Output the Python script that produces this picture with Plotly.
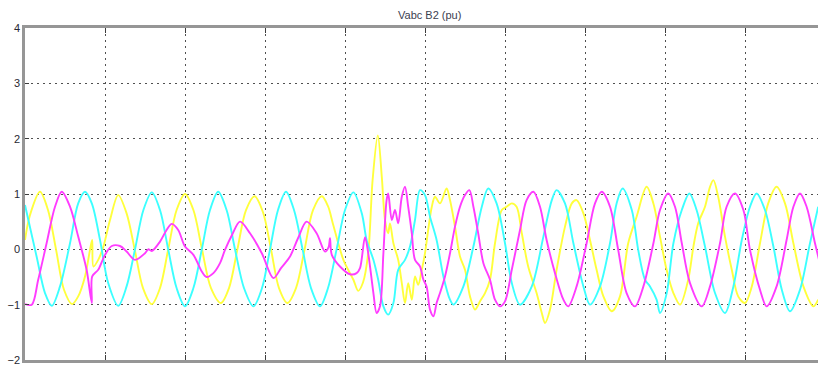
import plotly.graph_objects as go

# time in ms, values in pu
t_cyan = [0, 2.9, 5.0, 6.7, 8.75, 11.25, 13.3, 15.0, 16.7, 18.75, 20.8, 23.3, 25.4, 27.5, 29.6, 31.7,
          33.75, 35.8, 37.9, 40.0, 42.1, 44.2, 46.25, 48.3, 50.4, 52.5, 54.75, 57.1, 59.25, 61.25, 63.25,
          65.25, 67.25, 69.4, 71.5, 73.75, 75.75, 77.9, 80.0, 82.1, 84.2, 85.4, 87.1, 88.3, 89.6, 90.8,
          92.1, 93.3, 95.0, 96.25, 97.5, 98.75, 100.0, 101.25, 102.9, 104.6, 106.25, 107.1, 109.6, 112.1,
          114.2, 115.8, 117.9, 120.0, 121.7, 123.75, 126.7, 129.6, 131.7, 132.9, 135.0, 137.1, 139.6,
          141.25, 143.75, 146.25, 147.9, 149.4, 151.7, 153.3, 155.0, 156.25, 157.9, 158.75, 160.4, 162.1,
          164.2, 166.1, 167.9, 170.0, 172.5, 175.0, 177.1, 179.2, 181.25, 182.9, 185.0, 187.1, 189.2,
          191.25, 193.75, 196.25, 198.3]
v_cyan = [0.80, -0.13, -0.79, -1.02, -0.67, 0.11, 0.83, 1.04, 0.83, 0.17, -0.61, -1.02, -0.67, 0.0, 0.71,
          1.03, 0.71, 0.0, -0.70, -1.03, -0.70, 0.0, 0.71, 1.04, 0.71, 0.0, -0.70, -1.03, -0.70, 0.0, 0.71,
          1.04, 0.71, 0.0, -0.70, -1.03, -0.70, 0.0, 0.71, 1.03, 0.65, 0.17, -0.19, -0.55, -1.03, -1.18,
          -0.97, -0.37, -0.19, 0.05, 0.53, 1.07, 0.98, 0.59, 0.17, -0.49, -0.91, -1.0, -0.67, 0.05, 0.77,
          1.10, 0.83, 0.11, -0.61, -1.0, -0.67, 0.23, 0.89, 1.07, 0.83, 0.11, -0.67, -1.0, -0.67, 0.11,
          0.83, 1.10, 0.71, -0.01, -0.55, -0.67, -0.91, -1.15, -0.80, 0.11, 0.71, 1.01, 0.71, 0.05, -0.79,
          -1.15, -0.67, 0.17, 0.77, 1.01, 0.71, 0.05, -0.73, -1.12, -0.73, 0.11, 0.77]

t_yellow = [0, 1.25, 3.75, 5.75, 7.75, 9.75, 11.75, 13.3, 15.0, 16.25, 16.8, 17.1, 18.3, 19.6, 21.25, 23.3,
            25.4, 27.5, 29.5, 31.7, 33.75, 35.8, 37.9, 40.0, 42.1, 44.25, 46.5, 49.0, 51.0, 53.1, 55.25,
            57.4, 59.5, 61.5, 63.5, 65.6, 67.75, 69.9, 72.0, 74.2, 75.75, 77.1, 79.6, 82.1, 83.3, 84.5,
            85.8, 86.9, 88.2, 89.2, 90.0, 90.8, 91.25, 92.1, 93.3, 94.2, 95.0, 95.8, 96.7, 97.5, 98.3, 99.2,
            100.0, 100.8, 101.7, 102.5, 103.75, 105.4, 106.25, 107.5, 108.75, 110.0, 111.25, 112.5, 113.75,
            115.0, 116.25, 117.5, 119.2, 120.4, 121.7, 122.9, 124.2, 125.8, 127.9, 129.2, 130.0, 131.25,
            132.9, 135.0, 136.7, 137.9, 139.6, 141.25, 142.9, 144.6, 146.7, 148.75, 150.8, 152.9, 155.4,
            157.1, 158.75, 160.4, 162.1, 163.75, 165.8, 167.1, 168.3, 170.0, 171.25, 172.1, 173.3, 175.0,
            176.7, 178.3, 180.0, 181.7, 183.75, 185.8, 187.9, 190.0, 192.1, 194.6, 197.1, 198.3]
v_yellow = [0.17, 0.62, 1.04, 0.71, 0.0, -0.73, -0.99, -0.85, -0.49, -0.01, 0.17, -0.31, -0.19, 0.05, 0.53,
            0.98, 0.65, -0.03, -0.70, -0.99, -0.70, 0.0, 0.71, 1.0, 0.71, 0.0, -0.70, -0.97, -0.70, 0.0,
            0.71, 0.96, 0.67, 0.0, -0.70, -0.97, -0.70, 0.0, 0.71, 0.96, 0.78, 0.43, -0.19, -0.55, -0.75,
            -0.6, -0.07, 1.25, 2.06, 1.31, 0.53, 0.29, 0.47, 0.11, -0.19, -0.61, -0.97, -0.61, -0.91, -0.49,
            -0.64, -0.37, -0.07, 0.35, 0.77, 0.95, 0.83, 1.10, 0.89, 0.41, -0.13, -0.37, -0.85, -1.09, -0.94,
            -0.79, -0.55, 0.11, 0.71, 0.77, 0.83, 0.77, 0.29, -0.31, -0.79, -1.15, -1.33, -1.09, -0.37, 0.41,
            0.83, 0.89, 0.65, 0.17, -0.37, -0.85, -1.12, -0.85, 0.11, 0.59, 1.13, 0.83, 0.23, -0.37, -0.79,
            -1.0, -0.55, 0.05, 0.47, 0.77, 1.13, 1.25, 0.95, 0.23, -0.37, -0.85, -0.97, -0.67, 0.11, 0.83,
            1.13, 0.83, 0.11, -0.67, -1.03, -0.91]

t_magenta = [0, 1.7, 3.3, 5.4, 7.5, 9.2, 11.25, 13.3, 15.4, 16.7, 16.8, 18.3, 20.0, 21.7, 23.75, 25.4,
             27.5, 30.0, 30.8, 31.7, 33.75, 35.4, 36.7, 38.3, 40.0, 42.1, 44.2, 45.4, 47.1, 48.75, 50.0,
             51.75, 53.75, 56.25, 59.2, 62.1, 64.0, 66.25, 68.25, 70.4, 72.9, 75.0, 75.9, 76.25, 76.7,
             78.75, 81.25, 82.9, 83.75, 85.0, 85.8, 87.1, 87.9, 88.75, 89.6, 90.4, 90.8, 91.7, 92.5, 93.3,
             94.2, 95.0, 95.8, 96.7, 97.5, 98.75, 99.6, 100.4, 101.25, 102.1, 102.9, 103.75, 105.0, 106.25,
             107.5, 108.75, 110.0, 111.1, 112.1, 113.3, 114.6, 116.25, 117.5, 118.75, 120.0, 121.7, 123.75,
             125.4, 127.1, 128.75, 130.4, 132.5, 134.6, 135.8, 137.9, 140.4, 142.5, 144.2, 146.25, 148.3,
             150.4, 152.5, 154.6, 157.1, 158.75, 160.8, 162.5, 164.2, 166.25, 169.2, 171.25, 173.75, 175.4,
             177.5, 179.6, 181.25, 183.75, 185.4, 187.9, 190.4, 192.1, 193.75, 195.4, 197.5, 198.5]
v_magenta = [-0.99, -1.0, -0.55, 0.11, 0.77, 1.04, 0.77, 0.23, -0.37, -0.97, -0.49, -0.37, -0.10, 0.06,
             0.06, -0.04, -0.19, -0.07, 0.0, -0.03, 0.14, 0.35, 0.46, 0.35, 0.05, -0.10, -0.40, -0.50, -0.43,
             -0.25, -0.01, 0.26, 0.50, 0.29, -0.07, -0.52, -0.34, -0.13, 0.20, 0.50, 0.29, -0.04, 0.04, 0.20,
             -0.10, -0.31, -0.45, -0.43, -0.34, 0.22, -0.07, -0.79, -1.15, -1.03, -0.07, 0.89, 1.01, 0.53,
             0.71, 0.47, 0.95, 1.13, 0.77, 0.29, -0.19, -0.31, -0.55, -0.67, -1.09, -1.21, -0.97, -0.79,
             -0.49, -0.07, 0.41, 0.77, 0.98, 1.07, 0.77, 0.29, -0.25, -0.55, -0.91, -1.03, -0.94, -0.37, 0.35,
             0.89, 1.04, 0.77, 0.17, -0.43, -0.91, -1.03, -0.67, 0.11, 0.83, 1.04, 0.77, -0.01, -0.79, -1.03,
             -0.67, 0.11, 0.71, 1.01, 0.77, 0.11, -0.61, -1.03, -0.67, 0.11, 0.77, 1.01, 0.71, -0.01, -0.73,
             -1.03, -0.67, 0.17, 0.77, 1.01, 0.77, 0.11, -0.19]

y_ticks = [-2, -1, 0, 1, 2, 3, 4]
title_text = "Vabc B2 (pu)"

fig = go.Figure()
for t, v, c in [(t_yellow, v_yellow, "rgb(255,255,60)"),
                (t_cyan, v_cyan, "rgb(60,255,255)"),
                (t_magenta, v_magenta, "rgb(255,60,255)")]:
    fig.add_trace(go.Scatter(x=t, y=v, mode="lines",
                             line=dict(color=c, width=1.9, shape="spline", smoothing=0.9),
                             showlegend=False, hoverinfo="skip"))

grid_color = "rgb(80,80,80)"
fig.update_xaxes(range=[0, 198.25], dtick=20, tick0=0, showticklabels=False,
                 showgrid=True, gridcolor=grid_color, griddash="2px,4px", gridwidth=1,
                 showline=True, linecolor="rgb(150,150,150)", linewidth=2.5, mirror="allticks",
                 ticks="inside", ticklen=5, tickcolor="rgb(60,60,60)", zeroline=False)
fig.update_yaxes(range=[-2, 4], tickvals=y_ticks, showgrid=True, gridcolor=grid_color,
                 griddash="2px,4px", gridwidth=1, showline=True, linecolor="rgb(150,150,150)",
                 linewidth=2.5, ticks="inside", ticklen=4, tickcolor="rgb(60,60,60)", zeroline=False,
                 tickfont=dict(family="Arial, Liberation Sans", size=11, color="rgb(40,40,50)"))
fig.add_annotation(text=title_text, x=101, xref="x", y=1.0, yref="paper", yanchor="bottom",
                   yshift=5, showarrow=False,
                   font=dict(family="Arial, Liberation Sans", size=11, color="rgb(60,65,80)"))
fig.update_layout(width=818, height=367, margin=dict(l=25, r=0, t=28, b=7),
                  plot_bgcolor="white", paper_bgcolor="white")
fig.write_html("out.html")
